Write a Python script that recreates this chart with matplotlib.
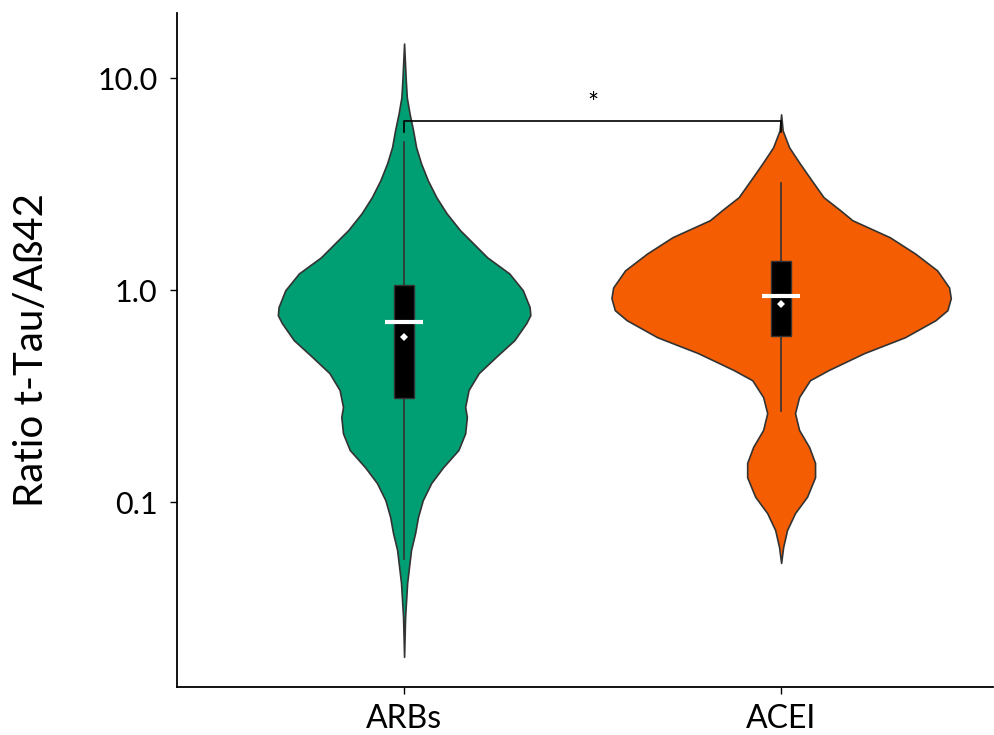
import matplotlib.pyplot as plt
from matplotlib.patches import Rectangle

plt.rcParams['font.family'] = ['Lato', 'DejaVu Sans']

groups = ['ARBs', 'ACEI']
colors = ['#009E73', '#F45D01']

# violin outlines: ratio value and relative density
arbs_y = [14.6, 9.79, 8.13, 6.84, 5.69, 4.73, 3.97, 3.30, 2.75, 2.31, 1.92, 1.72,
          1.43, 1.20, 1.00, 0.832, 0.762, 0.699, 0.581, 0.483, 0.406, 0.338,
          0.281, 0.252, 0.211, 0.176, 0.146, 0.123, 0.102, 0.0850, 0.0714,
          0.0594, 0.0493, 0.0415, 0.0345, 0.0287, 0.0186]
arbs_dens = [0, .010, .016, .032, .053, .071, .10, .14, .19, .25, .33, .39,
             .49, .62, .70, .74, .744, .72, .65, .54, .44, .38,
             .36, .37, .36, .32, .23, .16, .11, .082, .065,
             .041, .029, .018, .012, .006, 0]
acei_y = [6.76, 5.68, 4.73, 3.97, 3.30, 2.75, 2.38, 2.14, 1.78, 1.49, 1.24, 1.03,
          0.917, 0.805, 0.722, 0.600, 0.505, 0.420, 0.376, 0.313, 0.263, 0.219,
          0.182, 0.153, 0.131, 0.106, 0.0887, 0.0738, 0.0613, 0.0516]
acei_dens = [0, .009, .047, .11, .18, .25, .35, .42, .64, .79, .92, .99,
             1.0, .98, .91, .73, .49, .28, .17, .106, .082, .106,
             .165, .20, .20, .153, .082, .035, .012, 0]

# box summaries
q1 = [0.31, 0.61]
median = [0.71, 0.94]
q3 = [1.06, 1.37]
mean = [0.60, 0.86]
whisk_lo = [0.054, 0.27]
whisk_hi = [5.0, 3.2]

bracket_y = 6.3
bracket_tick = 5.6
star_y = 7.5

profiles = [(arbs_y, arbs_dens), (acei_y, acei_dens)]

fig = plt.figure(figsize=(9.95, 7.35), dpi=100)
ax = fig.add_axes([0.178, 0.0653, 0.82, 0.9167])
ax.set_yscale('log')

max_half = 0.45
for i, (ys, dens) in enumerate(profiles):
    x = i + 1
    half = [d * max_half for d in dens]
    left = [x - h for h in half]
    right = [x + h for h in half]
    ax.fill_betweenx(ys, left, right, facecolor=colors[i], edgecolor='#333333',
                     linewidth=1.2, zorder=2)
    ax.plot([x, x], [whisk_lo[i], whisk_hi[i]], color='#333333', lw=1.2, zorder=3)
    bw = 0.052
    ax.add_patch(Rectangle((x - bw / 2, q1[i]), bw, q3[i] - q1[i],
                           facecolor='black', edgecolor='#333333', lw=1, zorder=4))
    ax.plot([x - 0.05, x + 0.05], [median[i], median[i]], color='white',
            lw=3, solid_capstyle='butt', zorder=5)
    ax.plot(x, mean[i], marker='D', color='white', markersize=4.5,
            markeredgewidth=0, zorder=6)

ax.plot([1, 1, 2, 2], [bracket_tick, bracket_y, bracket_y, bracket_tick],
        color='black', lw=1.2, zorder=3)
ax.text(1.5, star_y, '*', ha='center', va='center', fontsize=19)

ax.set_xlim(0.398, 2.562)
ax.set_ylim(0.0134, 20.3)
ax.set_yticks([0.1, 1.0, 10.0])
ax.set_yticklabels(['0.1', '1.0', '10.0'])
ax.minorticks_off()
ax.set_xticks([1, 2])
ax.set_xticklabels(groups)
ax.tick_params(axis='y', labelsize=22, length=5, width=1, pad=9)
ax.tick_params(axis='x', labelsize=23, length=5, width=1, pad=7)
ax.set_ylabel('Ratio t-Tau/Aß42', fontsize=29, labelpad=34)

for s in ['top', 'right']:
    ax.spines[s].set_visible(False)
for s in ['left', 'bottom']:
    ax.spines[s].set_linewidth(1.3)

fig.savefig('out.png', dpi=100)
